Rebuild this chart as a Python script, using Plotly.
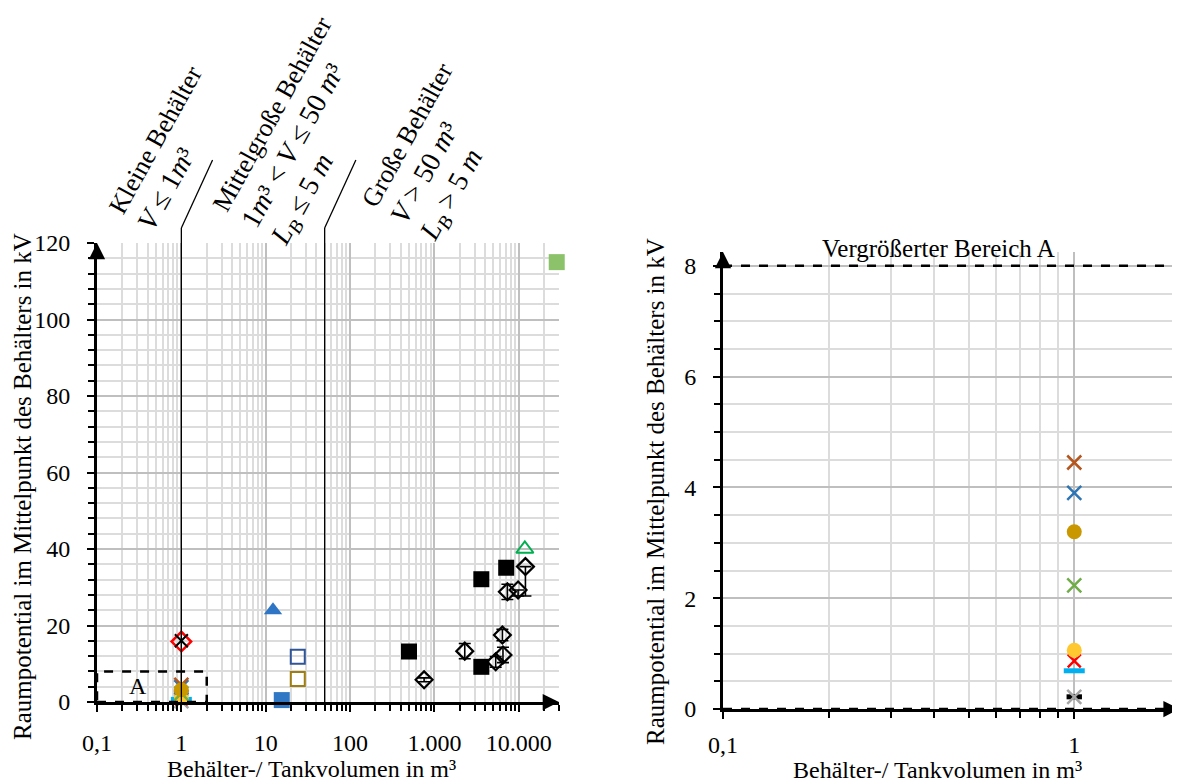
import numpy as np
import plotly.graph_objects as go

# page body has an 8px margin: figure placed at (8, 8) of the 1180x783 window
OX, OY = 8, 8
W, H = 1172, 775
FONT = "Liberation Serif"


def px2x(px):
    return (px - OX) / W


def px2y(py):
    return 1 - (py - OY) / H


# ---------------- data ----------------
x_tick_vals = [0.1, 1, 10, 100, 1000, 10000]
x_tick_text = ["0,1", "1", "10", "100", "1.000", "10.000"]
y_tick_vals = [0, 20, 40, 60, 80, 100, 120]
zoom_x_tick_vals = [0.1, 1]
zoom_x_tick_text = ["0,1", "1"]
zoom_y_tick_vals = [0, 2, 4, 6, 8]

class_limits = [1, 50]          # m³ boundaries of the container classes
region_a_x = [0.1, 2]           # zoomed region A
region_a_y = [0, 8]

# small containers (V = 1 m³)
small_x = [1, 1, 1, 1, 1, 1, 1, 1, 1]
small_y = [0.22, 0.22, 0.69, 0.87, 1.06, 2.23, 3.9, 4.45, 3.2]
small_red_diamond_x = [1]
small_red_diamond_y = [15.8]
small_black_cross_x = [1]
small_black_cross_y = [16.0]

# medium containers
med_tri_x, med_tri_y = [12.2], [24.0]
med_sq_x, med_sq_y = [15.5], [0.5]
med_open_navy_x, med_open_navy_y = [24], [11.8]
med_open_gold_x, med_open_gold_y = [24], [6.0]

# large containers
large_sq_x = [500, 3600, 7100, 3600]
large_sq_y = [13.2, 32.1, 35.1, 9.2]
large_dia_x = [755, 2290, 5330, 6500, 6400, 7330, 9820, 12000]
large_dia_y = [5.8, 13.3, 10.5, 12.3, 17.5, 28.8, 29.3, 35.4]
large_dia_err_plus = [0.5, 2.0, 1.4, 2.0, 1.5, 2.0, 0.0, 0.0]
large_dia_err_minus = [0.5, 2.0, 1.4, 2.0, 1.5, 2.0, 1.6, 7.7]
large_tri_x, large_tri_y = [11800], [40.0]
large_green_sq_x, large_green_sq_y = [28200], [115.0]

# styles for the small containers (same order as small_y)
small_styles = [
    dict(symbol="line-ew", color="black", size=11, lw=5),
    dict(symbol="x-thin", color="#A5A5A5", size=14, lw=2.5),
    dict(symbol="line-ew", color="#00B0F0", size=15, lw=5),
    dict(symbol="x-thin", color="#FF0000", size=13, lw=2.5),
    dict(symbol="circle", color="#FFC830", size=15, lw=0),
    dict(symbol="x-thin", color="#70AD47", size=14, lw=2.5),
    dict(symbol="x-thin", color="#2E75B6", size=14, lw=2.5),
    dict(symbol="x-thin", color="#B5561E", size=14, lw=2.5),
    dict(symbol="circle", color="#C99700", size=15, lw=0),
]

fig = go.Figure()


def add(xs, ys, symbol, color, size, lw=2, xa="x", ya="y", err=None):
    line_symbols = ("x-thin", "line-ew", "cross-thin")
    if symbol in line_symbols or symbol.endswith("-open"):
        marker = dict(symbol=symbol, size=size, color=color,
                      line=dict(color=color, width=lw))
    else:
        marker = dict(symbol=symbol, size=size, color=color,
                      line=dict(width=0))
    tr = go.Scatter(x=xs, y=ys, mode="markers", marker=marker, xaxis=xa,
                    yaxis=ya, cliponaxis=False, showlegend=False,
                    hoverinfo="x+y")
    if err is not None:
        tr.error_y = dict(type="data", symmetric=False, array=err[0],
                          arrayminus=err[1], color="black", thickness=1.6,
                          width=6)
    fig.add_trace(tr)


# ---- left chart ----
add(large_dia_x, large_dia_y, "diamond-open", "black", 13, 2.2,
    err=(large_dia_err_plus, large_dia_err_minus))
add(large_sq_x, large_sq_y, "square", "black", 16)
add(large_tri_x, large_tri_y, "triangle-up-open", "#00B050", 15, 2)
add(large_green_sq_x, large_green_sq_y, "square", "#8BC26A", 16)
add(med_tri_x, med_tri_y, "triangle-up", "#2E75C6", 16)
add(med_sq_x, med_sq_y, "square", "#3078C4", 16)
add(med_open_navy_x, med_open_navy_y, "square-open", "#2F5597", 14, 2)
add(med_open_gold_x, med_open_gold_y, "square-open", "#A07D10", 14, 2)
add(small_red_diamond_x, small_red_diamond_y, "diamond-open", "#FF0000", 15, 2.5)
add(small_black_cross_x, small_black_cross_y, "x-thin", "black", 13, 2)
for xv, yv, st in zip(small_x, small_y, small_styles):
    add([xv], [yv], st["symbol"], st["color"], st["size"], st["lw"])

# ---- right chart (zoom of region A) ----
for xv, yv, st in zip(small_x, small_y, small_styles):
    add([xv], [yv], st["symbol"], st["color"], st["size"], st["lw"],
        xa="x2", ya="y2")


def log_minor(lo_exp, hi_exp, vmax):
    vals = []
    for e in range(lo_exp, hi_exp + 1):
        for k in range(2, 10):
            v = k * 10.0 ** e
            if v <= vmax * 1.0001:
                vals.append(v)
    return vals


tickfont = dict(family=FONT, size=24, color="black")
x_max = 30000

common_x = dict(type="log", ticks="outside", ticklen=7, tickwidth=2,
                tickcolor="black", showline=True, linewidth=3,
                linecolor="black", showgrid=True, gridcolor="#BFBFBF",
                gridwidth=1.5, zeroline=False, tickfont=tickfont,
                ticklabelstandoff=10, fixedrange=True, automargin=False)
common_y = dict(ticks="outside", ticklen=7, tickwidth=2, tickcolor="black",
                showline=True, linewidth=3, linecolor="black", showgrid=True,
                gridcolor="#BFBFBF", gridwidth=1.5, zeroline=False,
                tickfont=tickfont, ticklabelstandoff=12, fixedrange=True,
                automargin=False)

fig.update_layout(
    width=W, height=H, margin=dict(l=0, r=0, t=0, b=0, pad=0),
    plot_bgcolor="white", paper_bgcolor="white",
    font=dict(family=FONT, color="black"),
    xaxis=dict(common_x, domain=[px2x(97), px2x(559)],
               range=[-1, np.log10(x_max)], tickvals=x_tick_vals,
               ticktext=x_tick_text, anchor="y",
               minor=dict(tickvals=log_minor(-1, 4, x_max), ticks="outside",
                          ticklen=6, tickwidth=2, tickcolor="black",
                          showgrid=True, gridcolor="#DCDCDC", gridwidth=1.5)),
    yaxis=dict(common_y, domain=[px2y(702), px2y(243)], range=[0, 120],
               tickvals=y_tick_vals, anchor="x",
               minor=dict(dtick=4, ticks="outside", ticklen=6, tickwidth=2,
                          tickcolor="black", showgrid=True,
                          gridcolor="#DCDCDC", gridwidth=1.5)),
    xaxis2=dict(common_x, domain=[px2x(723), 1.0],
                range=[-1, np.log10(region_a_x[1])],
                tickvals=zoom_x_tick_vals, ticktext=zoom_x_tick_text,
                anchor="y2", ticklabelstandoff=5,
                minor=dict(tickvals=log_minor(-1, 0, region_a_x[1]),
                           ticks="outside", ticklen=6, tickwidth=2,
                           tickcolor="black", showgrid=True,
                           gridcolor="#DCDCDC", gridwidth=1.5)),
    yaxis2=dict(common_y, domain=[px2y(709), px2y(252)],
                range=[0, 8.25], tickvals=zoom_y_tick_vals, anchor="x2",
                minor=dict(dtick=0.5, ticks="outside", ticklen=6,
                           tickwidth=2, tickcolor="black", showgrid=True,
                           gridcolor="#DCDCDC", gridwidth=1.5)),
)

# region A rectangle (left)
fig.add_shape(type="rect", xref="x", yref="y",
              x0=region_a_x[0], x1=region_a_x[1],
              y0=region_a_y[0], y1=region_a_y[1],
              line=dict(color="black", width=2.5, dash="dash"),
              layer="above")
# zoomed frame of region A (right): lower and upper bounds
for yb in region_a_y:
    fig.add_shape(type="line", xref="x2", yref="y2",
                  x0=region_a_x[0], x1=region_a_x[1], y0=yb, y1=yb,
                  line=dict(color="black", width=2.5, dash="dash"),
                  layer="above")

# class boundary lines with leader lines to the labels
y_bot = px2y(702)
y_top = px2y(228)
y_lead = px2y(160)
for lim in class_limits:
    fig.add_shape(type="line", xref="x", yref="paper", x0=lim, x1=lim,
                  y0=y_bot, y1=y_top, line=dict(color="black", width=1.3),
                  layer="above")
    fig.add_shape(type="line", xref="x", yref="paper", x0=lim,
                  x1=lim * 10 ** 0.37, y0=y_top, y1=y_lead,
                  line=dict(color="black", width=1.3), layer="above")

# axis arrows
arrow = dict(showarrow=True, arrowhead=2, arrowsize=1.3, arrowwidth=2.5,
             arrowcolor="black", text="")
fig.add_annotation(arrow, xref="x", yref="y", x=-1, y=120, ax=0, ay=16)
fig.add_annotation(arrow, xref="x", yref="y", x=np.log10(x_max) - 0.001,
                   y=0, ax=-16, ay=0)
fig.add_annotation(arrow, xref="x2", yref="y2", x=-1, y=8.25, ax=0, ay=16)
fig.add_annotation(arrow, xref="x2", yref="y2",
                   x=np.log10(region_a_x[1]) - 0.001, y=0, ax=-16, ay=0)

# "A" label
fig.add_annotation(xref="x", yref="y", x=np.log10(0.31), y=4.2, text="A",
                   showarrow=False, xanchor="center", yanchor="middle",
                   font=dict(family=FONT, size=24))

# axis titles
ytitle = "Raumpotential im Mittelpunkt des Behälters in kV"
xtitle = "Behälter-/ Tankvolumen in m³"
tf = dict(family=FONT, size=24, color="black")
center = dict(showarrow=False, xanchor="center", yanchor="middle",
              xref="paper", yref="paper", font=tf)
fig.add_annotation(center, x=px2x(22), y=px2y(487), text=ytitle,
                   textangle=-90, font=dict(family=FONT, size=25))
fig.add_annotation(center, x=px2x(655), y=px2y(492), text=ytitle,
                   textangle=-90, font=dict(family=FONT, size=25))
fig.add_annotation(center, x=px2x(311), y=px2y(769), text=xtitle)
fig.add_annotation(center, x=px2x(937), y=px2y(770), text=xtitle)
fig.add_annotation(center, x=px2x(938), y=px2y(248),
                   text="Vergrößerter Bereich A",
                   font=dict(family=FONT, size=25))

# class labels
M = '<span style="font-size:28px">'
labels = [
    ("Kleine Behälter<br>" + M + "<i>V</i> ≤ 1<i>m</i>³</span>", 170, 148),
    ("Mittelgroße Behälter<br>" + M + "1<i>m</i>³ &lt; <i>V</i> ≤ 50 <i>m</i>³</span><br>"
     + M + "<i>L<sub>B</sub></i> ≤ 5 <i>m</i></span>", 303, 132),
    ("Große Behälter<br>" + M + "<i>V</i> &gt; 50 <i>m</i>³</span><br>"
     + M + "<i>L<sub>B</sub></i> &gt; 5 <i>m</i></span>", 438, 153),
]
for txt, px, py in labels:
    fig.add_annotation(xref="paper", yref="paper", x=px2x(px), y=px2y(py),
                       text=txt, textangle=-61, showarrow=False, align="left",
                       xanchor="center", yanchor="middle",
                       font=dict(family=FONT, size=26, color="black"))

fig.write_html("out.html")
